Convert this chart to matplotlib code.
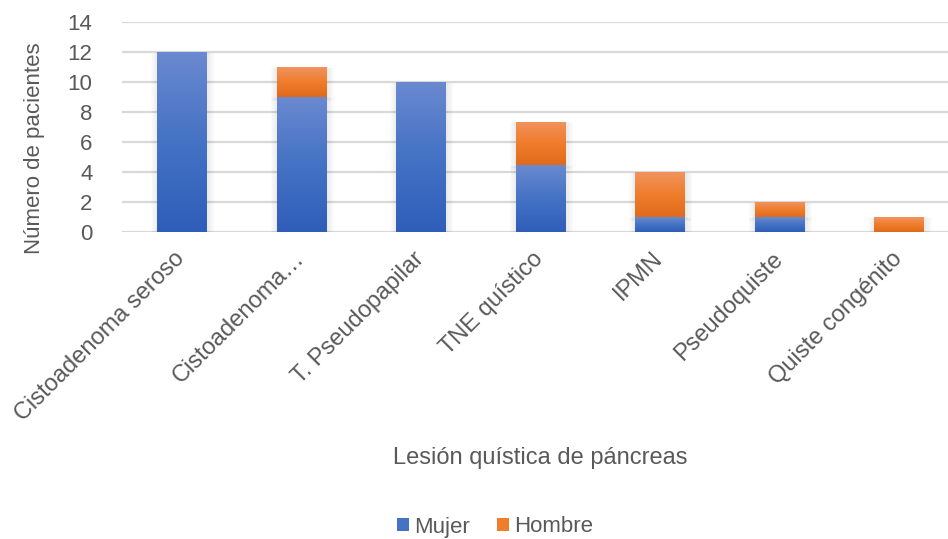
import numpy as np
import matplotlib
matplotlib.use("Agg")
import matplotlib.pyplot as plt
from matplotlib.colors import LinearSegmentedColormap
from matplotlib.patches import Patch

matplotlib.rcParams['font.family'] = ['Liberation Sans', 'DejaVu Sans']

CATEGORIES = ["Cistoadenoma seroso", "Cistoadenoma\u2026", "T. Pseudopapilar",
              "TNE quístico", "IPMN", "Pseudoquiste", "Quiste congénito"]
MUJER = [12, 9, 10, 4.45, 1, 1, 0]
HOMBRE = [0, 2, 0, 2.9, 3, 1, 1]

TEXT = "#595959"
BLUE = ["#2f5eba", "#4472c4", "#6a89d0"]     # bottom, mid, top
ORANGE = ["#e06a1b", "#ef7d2c", "#f1935e"]


def gradient_fill(ax, rects, colors):
    cmap = LinearSegmentedColormap.from_list("g", colors)
    grad = np.linspace(0, 1, 256).reshape(-1, 1)
    for r in rects:
        if r.get_height() <= 0:
            continue
        x, y = r.get_x(), r.get_y()
        w, h = r.get_width(), r.get_height()
        # soft shadow
        for k in range(1, 6):
            dx = 0.012 * k
            dy = 0.06 * k
            ax.add_patch(plt.Rectangle((x - dx + 0.01, y - dy), w + 2 * dx, h + dy * 0.8,
                                       facecolor="#000000", alpha=0.016, lw=0, zorder=1.5))
        im = ax.imshow(grad, extent=(x, x + w, y, y + h), origin="lower",
                       cmap=cmap, aspect="auto", zorder=3, interpolation="bilinear")
        im.set_clip_path(r)


fig = plt.figure(figsize=(9.48, 5.39), dpi=100)
ax = fig.add_axes([0.1284, 0.5696, 0.8826, 0.3896])

ind = np.arange(len(CATEGORIES))
width = 0.41

r1 = ax.bar(ind, MUJER, width, color=BLUE[1], zorder=2.5)
r2 = ax.bar(ind, HOMBRE, width, bottom=MUJER, color=ORANGE[1], zorder=2.5)
gradient_fill(ax, r1, BLUE)
gradient_fill(ax, r2, ORANGE)

ax.set_xlim(-0.5, len(CATEGORIES) - 0.5)
ax.set_ylim(0, 14)
ax.set_yticks(range(0, 15, 2))
ax.yaxis.grid(True, color="#d9d9d9", linewidth=1.6, zorder=0)
ax.set_axisbelow(True)
for s in ax.spines.values():
    s.set_visible(False)
ax.axhline(0, color="#d9d9d9", linewidth=1.8, zorder=1)

ax.tick_params(axis="both", length=0, labelcolor=TEXT)
ax.tick_params(axis="y", pad=21, labelsize=16)
ax.set_xticks(ind)
ax.set_xticklabels(CATEGORIES, rotation=45, ha="right", va="center",
                   rotation_mode="anchor")
ax.tick_params(axis="x", pad=17, labelsize=17)

ax.set_ylabel("Número de pacientes", fontsize=16, color=TEXT, va="center")
ax.yaxis.set_label_coords(-0.104, 0.40)
ax.set_xlabel("Lesión quística de páncreas", fontsize=17, color=TEXT, va="center")
ax.xaxis.set_label_coords(0.5, -1.076)

handles = [Patch(facecolor=BLUE[1], label="Mujer"), Patch(facecolor=ORANGE[1], label="Hombre")]
leg = fig.legend(handles=handles, loc="center", bbox_to_anchor=(495 / 948, 1 - 527 / 539),
                 ncol=2, frameon=False, fontsize=16, handlelength=0.55, handleheight=0.55,
                 handletextpad=0.25, columnspacing=1.2)
for t in leg.get_texts():
    t.set_color(TEXT)

fig.savefig("out.png", dpi=100)
plt.close()
